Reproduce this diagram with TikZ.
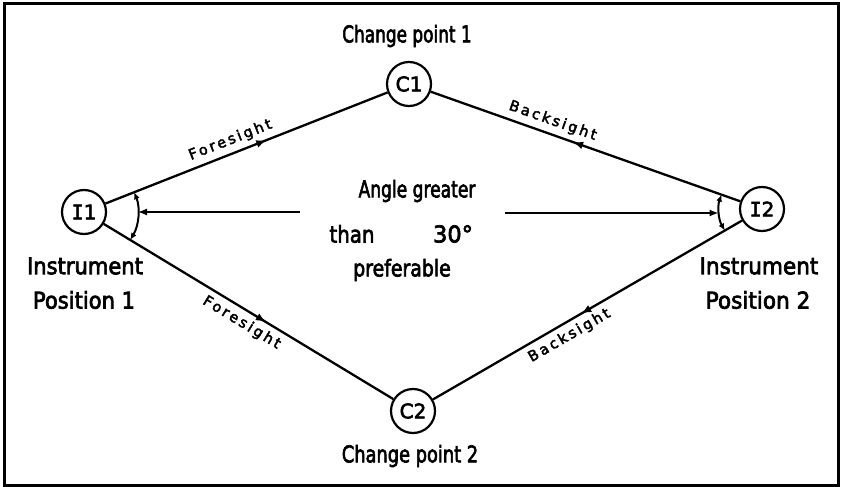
\documentclass[tikz,border=0pt]{standalone}
\usepackage{fontspec}
\setmainfont{DejaVu Sans}[FakeBold=3]
\newfontfamily\lblfont{DejaVu Sans}[LetterSpace=18, FakeBold=3]
\newfontfamily\serifI{DejaVu Sans Mono}[FakeBold=3]
\usetikzlibrary{arrows.meta,decorations.markings,calc}
\newcommand{\tbox}[2]{\scalebox{#1}[1.28]{#2}}
\tikzset{
  station/.style={circle, draw, line width=2.2pt, minimum size=44pt, inner sep=0pt, font=\fontsize{20}{20}\selectfont},
  conn/.style={line width=2.3pt},
  fwd/.style={postaction={decorate, decoration={markings, mark=at position #1 with {\arrow{Latex[length=10pt,width=8pt]}}}}},
  bwd/.style={postaction={decorate, decoration={markings, mark=at position #1 with {\arrowreversed{Latex[length=10pt,width=8pt]}}}}},
  sightlbl/.style={font={\fontsize{14.5}{16}\selectfont\lblfont}, sloped, inner sep=5pt},
  txt/.style={font=\fontsize{18}{20}\selectfont, inner sep=0pt},
  anglearc/.style={line width=2pt, {Latex[length=7pt,width=6pt]}-{Latex[length=7pt,width=6pt]}},
  pointer/.style={line width=1.3pt, -{Latex[length=9pt,width=7pt]}},
}
\begin{document}
\begin{tikzpicture}[x=1pt,y=1pt]
\useasboundingbox (0,0) rectangle (841,-487);
\draw[line width=3pt] (4,-4) rectangle (838,-485);

\node[station] (I1) at (84,-212) {{\serifI I}1};
\node[station] (C1) at (409,-84) {C1};
\node[station] (I2) at (762,-209) {{\serifI I}2};
\node[station] (C2) at (413,-411) {C2};

\draw[conn, fwd=0.57] (I1) -- node[sightlbl, above, pos=0.46] {Foresight} (C1);
\draw[conn, bwd=0.46] (C1) -- node[sightlbl, above, pos=0.38] {Backsight} (I2);
\draw[conn, fwd=0.56] (I1) -- node[sightlbl, below, pos=0.50] {Foresight} (C2);
\draw[conn, bwd=0.48] (C2) -- node[sightlbl, below, pos=0.42] {Backsight} (I2);

% angle arcs
\draw[anglearc] ($(I1)+(-31.2:54)$) arc[start angle=-31.2, end angle=21.5, radius=54];
\draw[anglearc] ($(I2)+(160.5:43)$) arc[start angle=160.5, end angle=210.1, radius=43];
\coordinate (a1) at ($(I1)+(54,0)$);
\coordinate (a2) at ($(I2)+(-43.5,-4)$);
\coordinate (s1) at (300,-212);
\coordinate (s2) at (505,-213);
\draw[pointer] (s1) -- (a1);
\draw[pointer] (s2) -- (a2);

% texts
\node[txt] (cp1) at (407,-36) {\tbox{0.94}{Change point 1}};
\node[txt] (cp2) at (410,-456) {\tbox{0.99}{Change point 2}};
\node[txt] (in1) at (85,-266) {\tbox{1.17}{Instrument}};
\node[txt] (po1) at (84,-300) {\tbox{1.17}{Position\ 1}};
\node[txt] (in2) at (759,-266) {\tbox{1.2}{Instrument}};
\node[txt] (po2) at (758,-300) {\tbox{1.2}{Position\ 2}};
\node[txt] (ag) at (417,-191) {\tbox{0.95}{Angle greater}};
\node[txt] (th) at (352,-234) {\tbox{1.1}{than}};
\node[txt] (th2) at (453,-234) {\tbox{1.25}{30°}};
\node[txt] (pf) at (402,-270) {\tbox{1.05}{preferable}};
\end{tikzpicture}
\end{document}
